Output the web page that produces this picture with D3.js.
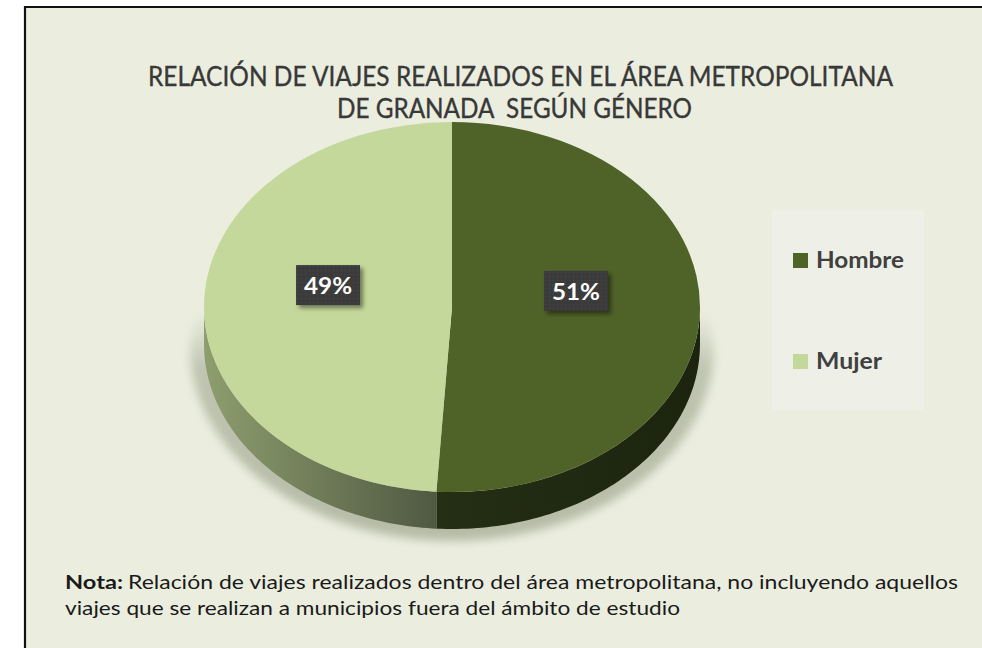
<!DOCTYPE html>
<html><head><meta charset="utf-8">
<script src="https://cdn.jsdelivr.net/npm/d3@7"></script>
<style>
html,body{margin:0;padding:0;background:#fff;overflow:hidden;}
svg{display:block;}
text{font-family:Lato,"Open Sans",sans-serif;}
</style></head>
<body>
<script>
// ---- data ----
const categories = ["Hombre", "Mujer"];
const values = [51, 49];
const titleLines = ["RELACIÓN DE VIAJES REALIZADOS EN EL ÁREA METROPOLITANA", "DE GRANADA  SEGÚN GÉNERO"];
const noteLabel = "Nota:";
const noteLines = ["Relación de viajes realizados dentro del área metropolitana, no incluyendo aquellos",
                   "viajes que se realizan a municipios fuera del ámbito de estudio"];

const W = 982, H = 648;
const svg = d3.select("body").append("svg").attr("width", W).attr("height", H);
const defs = svg.append("defs");

// filters
const blur = defs.append("filter").attr("id","pieShadow").attr("x","-20%").attr("y","-20%").attr("width","140%").attr("height","140%");
blur.append("feGaussianBlur").attr("stdDeviation", 5);
const ds = defs.append("filter").attr("id","boxShadow").attr("x","-30%").attr("y","-30%").attr("width","160%").attr("height","160%");
ds.append("feDropShadow").attr("dx",3).attr("dy",3).attr("stdDeviation",2).attr("flood-color","#000").attr("flood-opacity",0.45);
const pat = defs.append("pattern").attr("id","dots").attr("width",4).attr("height",4).attr("patternUnits","userSpaceOnUse");
pat.append("rect").attr("width",4).attr("height",4).attr("fill","#3a3a3a");
pat.append("rect").attr("x",1).attr("y",1).attr("width",1).attr("height",1).attr("fill","#4a4a4a");
const sg = defs.append("linearGradient").attr("id","shadowGrad").attr("x1",0).attr("x2",0).attr("y1",0).attr("y2",1);
sg.append("stop").attr("offset",0).attr("stop-color","#BFC4B1").attr("stop-opacity",0);
sg.append("stop").attr("offset",0.25).attr("stop-color","#BFC4B1").attr("stop-opacity",1);
sg.append("stop").attr("offset",1).attr("stop-color","#B6BBA7").attr("stop-opacity",1);

// background + border (left and top edges only; frame runs off the page)
svg.append("rect").attr("x",25).attr("y",7).attr("width",W-25).attr("height",H-7).attr("fill","#EBEEDF");
svg.append("path").attr("d",`M25,${H} V7 H${W}`).attr("fill","none").attr("stroke","#111").attr("stroke-width",2.2);

// title
const tg = svg.append("g").attr("fill","#383838").attr("stroke","#383838").attr("stroke-width",0.35).attr("font-size",26);
const titleSpec = [{x:520.5, y:86, w:745}, {x:514.5, y:118, w:355}];
titleLines.forEach((t,i)=>{
  tg.append("text").attr("x",titleSpec[i].x).attr("y",titleSpec[i].y)
    .attr("text-anchor","middle").style("white-space","pre")
    .attr("textLength",titleSpec[i].w).attr("lengthAdjust","spacingAndGlyphs").text(t);
});

// pie geometry
const cx = 452, cy = 307, rx = 248, ry = 185, depth = 37;
const color = d3.scaleOrdinal().domain(categories).range(["#4F6228","#C4D89B"]);
const sideColor = d3.scaleOrdinal().domain(categories).range(["url(#sideH)","url(#sideM)"]);

const gH = defs.append("linearGradient").attr("id","sideH").attr("gradientUnits","userSpaceOnUse")
  .attr("x1",cx-rx).attr("x2",cx+rx).attr("y1",0).attr("y2",0);
gH.append("stop").attr("offset",0.4).attr("stop-color","#263014");
gH.append("stop").attr("offset",1).attr("stop-color","#1C240F");
const gM = defs.append("linearGradient").attr("id","sideM").attr("gradientUnits","userSpaceOnUse")
  .attr("x1",cx-rx).attr("x2",cx-5).attr("y1",0).attr("y2",0);
gM.append("stop").attr("offset",0).attr("stop-color","#8E9E6E");
gM.append("stop").attr("offset",1).attr("stop-color","#4C5640");

const pie = d3.pie().sort(null).value(d=>d.v);
const arcs = pie(categories.map((c,i)=>({c, v: values[i]})));

// shadow behind pie
const shadowPath = d3.path();
{
  const sx = rx + 14, sTop = cy + 5, sBot = cy + depth + 4, sry = ry + 8;
  shadowPath.moveTo(cx - sx + 6, sTop);
  shadowPath.lineTo(cx + sx - 6, sTop);
  shadowPath.lineTo(cx + sx, sBot);
  d3.range(0, 181, 3).forEach(a=>{
    const t = a*Math.PI/180;
    shadowPath.lineTo(cx + sx*Math.cos(t), sBot + sry*Math.sin(t));
  });
  shadowPath.closePath();
}
svg.append("path").attr("d", shadowPath.toString()).attr("fill","url(#shadowGrad)")
  .attr("filter","url(#pieShadow)");

const ex = a => cx + rx*Math.sin(a);
const ey = a => cy - ry*Math.cos(a);

// side walls (visible front half: angles PI/2 .. 3PI/2)
const sideG = svg.append("g");
arcs.forEach(d=>{
  const s = Math.max(d.startAngle, Math.PI/2), e = Math.min(d.endAngle, 3*Math.PI/2);
  if (e <= s) return;
  const n = 80, p = d3.path();
  const steps = d3.range(n+1).map(k => s + (e-s)*k/n);
  steps.forEach((a,k)=> k===0 ? p.moveTo(ex(a), ey(a)) : p.lineTo(ex(a), ey(a)));
  steps.slice().reverse().forEach(a=> p.lineTo(ex(a), ey(a)+depth));
  p.closePath();
  sideG.append("path").attr("d", p.toString()).attr("fill", sideColor(d.data.c));
});

// top faces
const arc = d3.arc().innerRadius(0).outerRadius(rx);
const topG = svg.append("g").attr("transform",`translate(${cx},${cy}) scale(1,${ry/rx})`);
topG.selectAll("path").data(arcs).join("path").attr("d", arc).attr("fill", d=>color(d.data.c));

// labels
const labelDy = -19;
arcs.forEach(d=>{
  const [lx, ly] = arc.centroid(d);
  const px = cx + lx, py = cy + ly*ry/rx + labelDy;
  const g = svg.append("g").attr("transform",`translate(${px},${py})`);
  g.append("rect").attr("x",-32).attr("y",-20).attr("width",64).attr("height",40)
    .attr("fill","url(#dots)").attr("filter","url(#boxShadow)");
  g.append("text").attr("text-anchor","middle").attr("y",9).attr("fill","#fff")
    .attr("font-size",23).attr("font-weight",700)
    .attr("textLength",48).attr("lengthAdjust","spacingAndGlyphs")
    .text(`${d.data.v}%`);
});

// legend
svg.append("rect").attr("x",772).attr("y",210).attr("width",152).attr("height",200).attr("fill","#EEF0E7");
const legY = [253, 354], legW = [88, 66];
categories.forEach((c,i)=>{
  svg.append("rect").attr("x",793).attr("y",legY[i]).attr("width",15).attr("height",15).attr("fill",color(c));
  svg.append("text").attr("x",816).attr("y",legY[i]+15).attr("fill","#404040")
    .attr("font-size",22).attr("font-weight",700)
    .attr("textLength",legW[i]).attr("lengthAdjust","spacingAndGlyphs").text(c);
});

// note
const ng = svg.append("g").attr("fill","#1a1a1a").attr("font-size",19);
ng.append("text").attr("x",65).attr("y",589).attr("font-weight",700)
  .attr("textLength",58).attr("lengthAdjust","spacingAndGlyphs").text(noteLabel);
ng.append("text").attr("x",128).attr("y",589)
  .attr("textLength",830).attr("lengthAdjust","spacingAndGlyphs").text(noteLines[0]);
ng.append("text").attr("x",65).attr("y",615)
  .attr("textLength",615).attr("lengthAdjust","spacingAndGlyphs").text(noteLines[1]);
</script>
</body></html>
